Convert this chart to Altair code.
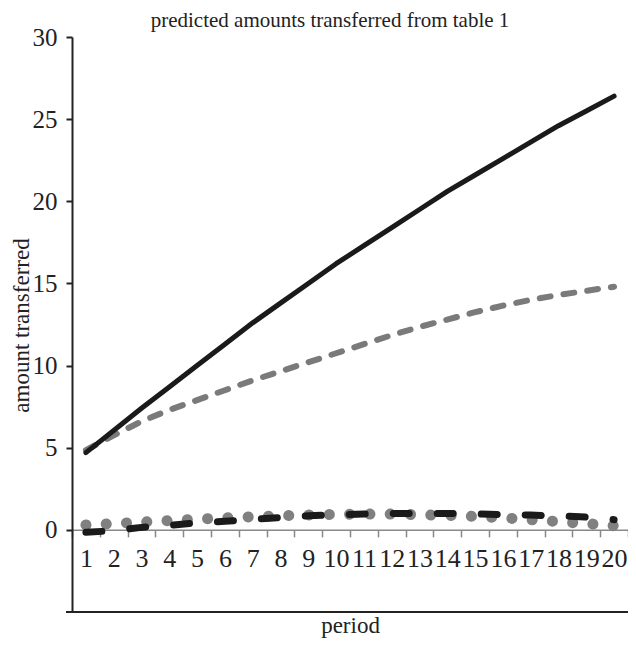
import altair as alt
import pandas as pd

periods = list(range(1, 21))
solid_black = [4.7, 6.05, 7.4, 8.7, 10.0, 11.3, 12.6, 13.8, 15.0, 16.2,
               17.3, 18.4, 19.5, 20.6, 21.6, 22.6, 23.6, 24.6, 25.5, 26.4]
dashed_gray = [4.85, 5.75, 6.6, 7.3, 7.9, 8.5, 9.1, 9.65, 10.2, 10.75,
               11.3, 11.85, 12.35, 12.8, 13.25, 13.65, 14.0, 14.3, 14.55, 14.8]
dashed_black = [-0.15, -0.05, 0.15, 0.28, 0.42, 0.52, 0.64, 0.75, 0.86, 0.92,
                0.96, 0.99, 1.0, 1.0, 0.97, 0.93, 0.9, 0.85, 0.78, 0.62]
dotted_gray = [0.3, 0.38, 0.47, 0.56, 0.65, 0.73, 0.8, 0.86, 0.91, 0.94,
               0.96, 0.96, 0.93, 0.88, 0.82, 0.73, 0.62, 0.5, 0.38, 0.25]
y_ticks = [0, 5, 10, 15, 20, 25, 30]

series = {
    "solid_black": solid_black,
    "dashed_gray": dashed_gray,
    "dashed_black": dashed_black,
    "dotted_gray": dotted_gray,
}
rows = []
for name, vals in series.items():
    for p, v in zip(periods, vals):
        rows.append({"series": name, "period": p, "value": v})
df = pd.DataFrame(rows)

W, H = 556, 575
FONT = "Liberation Serif"
zero_offset = -H * 5 / 35

x = alt.X(
    "period:O",
    sort=periods,
    scale=alt.Scale(type="band", paddingInner=0, paddingOuter=0),
    axis=alt.Axis(
        orient="bottom", offset=zero_offset, tickBand="extent",
        domainColor="#888888", domainWidth=1.5,
        tickColor="#888888", tickWidth=1.5, tickSize=7,
        labelFont=FONT, labelFontSize=26, labelColor="#222222",
        labelAngle=0, labelPadding=9,
        title="period", titleFont=FONT, titleFontSize=23,
        titleFontWeight="normal", titleColor="#222222",
        titleY=96, titleBaseline="middle",
    ),
)
y = alt.Y(
    "value:Q",
    scale=alt.Scale(domain=[-5, 30], nice=False, zero=False),
    axis=alt.Axis(
        values=y_ticks, grid=False,
        domainColor="#222222", domainWidth=2,
        tickColor="#222222", tickWidth=2, tickSize=6,
        labelFont=FONT, labelFontSize=25, labelColor="#222222",
        labelPadding=9,
        title="amount transferred", titleFont=FONT, titleFontSize=23,
        titleFontWeight="normal", titleColor="#222222",
        titleX=-51, titleY=288, titleBaseline="middle",
    ),
)

base = alt.Chart(df)


def layer(name, color, width, dash=None):
    kw = dict(color=color, strokeWidth=width, strokeCap="round", strokeJoin="round")
    if dash is not None:
        kw["strokeDash"] = dash
    return base.transform_filter(alt.datum.series == name).mark_line(**kw).encode(x=x, y=y)


bottom_line = alt.Chart(pd.DataFrame({"a": [0]})).mark_rule(
    color="#222222", strokeWidth=2
).encode(x=alt.value(-6), x2=alt.value(W), y=alt.value(H))

chart = alt.layer(
    bottom_line,
    layer("dotted_gray", "#808080", 11, [0.1, 20.2]),
    layer("dashed_black", "#1a1a1a", 7, [16, 28]),
    layer("dashed_gray", "#7a7a7a", 6, [11, 13]),
    layer("solid_black", "#1a1a1a", 5),
).properties(
    width=W, height=H,
    autosize=alt.AutoSizeParams(type="none"),
    padding={"left": 64, "top": 29, "right": 0, "bottom": 27},
    title=alt.TitleParams(
        "predicted amounts transferred from table 1",
        font=FONT, fontSize=21, fontWeight="normal", color="#222222",
        anchor="middle", dx=-20, offset=-6,
    ),
).configure_view(stroke=None)

chart.save("out.html", embed_options={"renderer": "svg", "actions": False})
